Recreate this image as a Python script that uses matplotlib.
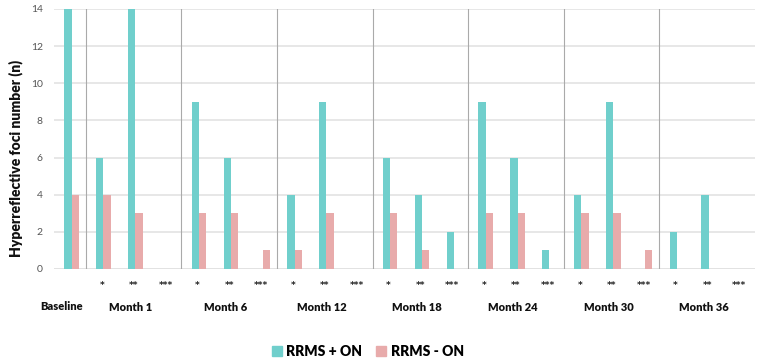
import matplotlib
matplotlib.use("Agg")
import matplotlib.pyplot as plt
from matplotlib.patches import Patch

months = ["Month 1", "Month 6", "Month 12", "Month 18", "Month 24", "Month 30", "Month 36"]
sub_labels = ["*", "**", "***"]
baseline_label = "Baseline"
series_names = ["RRMS + ON", "RRMS - ON"]

baseline_pos = 14
baseline_neg = 4
# per month: values for *, **, ***
pos_values = [
    [6, 14, 0],
    [9, 6, 0],
    [4, 9, 0],
    [6, 4, 2],
    [9, 6, 1],
    [4, 9, 0],
    [2, 4, 0],
]
neg_values = [
    [4, 3, 0],
    [3, 3, 1],
    [1, 3, 0],
    [3, 1, 0],
    [3, 3, 0],
    [3, 3, 1],
    [0, 0, 0],
]
yticks = [0, 2, 4, 6, 8, 10, 12, 14]

teal = "#70CFCC"
pink = "#E8ABAB"

plt.rcParams['font.family'] = ['Lato', 'DejaVu Sans']

fig = plt.figure(figsize=(7.66, 3.61), dpi=100)
ax = fig.add_axes([54/766, 1-269/361, (755-54)/766, (269-9)/361])

xs = [0]
pv = [baseline_pos]
nv = [baseline_neg]
for m in range(len(months)):
    for j in range(3):
        xs.append(1 + 3*m + j)
        pv.append(pos_values[m][j])
        nv.append(neg_values[m][j])

w = 0.23
ax.bar([x - w/2 + 0.05 for x in xs], pv, width=w, color=teal, zorder=3)
ax.bar([x + w/2 + 0.05 for x in xs], nv, width=w, color=pink, zorder=3)

ax.set_xlim(-0.5, 21.5)
ax.set_ylim(0, 14)
ax.set_yticks(yticks)
ax.set_yticklabels([str(t) for t in yticks], color="#555555", fontsize=7.5)
ax.tick_params(axis='y', length=0, pad=8)
ax.set_xticks([])
ax.yaxis.grid(True, color="#E3E3E3", linewidth=1.2, zorder=0)
for s in ax.spines.values():
    s.set_visible(False)
ax.axhline(0, color="#DDDDDD", linewidth=1.2, zorder=1)

for m in range(len(months)):
    ax.axvline(0.5 + 3*m, color="#AAAAAA", linewidth=0.8, zorder=2)

trans = ax.get_xaxis_transform()
for m in range(len(months)):
    for j in range(3):
        ax.text(1 + 3*m + j, -0.062, sub_labels[j], transform=trans, ha='center', va='center',
                fontsize=6.5, fontweight='bold', color="#222222", family='DejaVu Sans')
    ax.text(2 + 3*m - 0.1, -0.148, months[m], transform=trans, ha='center', va='center',
            fontsize=8, fontweight='heavy', color="#111111")
fig.text(62/766, 1-307/361, baseline_label, ha='center', va='center', fontsize=8,
         fontweight='heavy', color="#111111")

fig.text(16/766, 1-158/361, "Hyperreflective foci number (n)", rotation=90, ha='center', va='center',
         fontsize=10, fontweight='heavy', color="#111111")

handles = [Patch(color=teal, label=series_names[0]), Patch(color=pink, label=series_names[1])]
leg = fig.legend(handles=handles, loc='center', bbox_to_anchor=(368/766, 1-351/361), ncol=2,
                 frameon=False, prop={'weight': 'heavy', 'size': 10}, handlelength=0.7, handleheight=0.7,
                 handletextpad=0.35, columnspacing=1.0)

fig.savefig("out.png", dpi=100)
